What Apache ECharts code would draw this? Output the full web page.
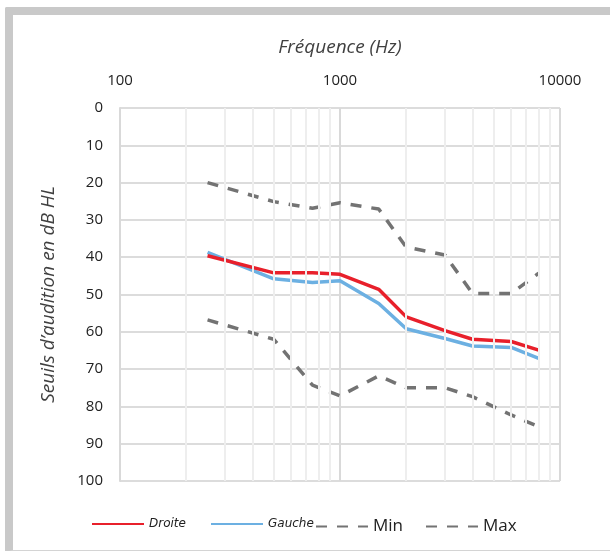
<!DOCTYPE html>
<html>
<head>
<meta charset="utf-8">
<script src="https://cdn.jsdelivr.net/npm/echarts@6/dist/echarts.min.js"></script>
<style>
  html, body { margin: 0; padding: 0; background: #fff; }
  #frame {
    position: absolute; left: 5px; top: 7px; width: 605px; height: 535px;
    border-left: 8px solid #c9c9c9; border-top: 8px solid #c9c9c9;
    border-bottom: 2px solid #d4d4d4; border-top-left-radius: 2px;
  }
  #chart { position: absolute; left: 0; top: 0; width: 610px; height: 551px; }
</style>
</head>
<body>
<div id="frame"></div>
<div id="chart"></div>
<script>
// fréquences mesurées (Hz)
const freqs = [250, 500, 750, 1000, 1500, 2000, 3000, 4000, 6000, 8000];
// seuils (dB HL)
const droite = [39.6, 44.2, 44.2, 44.6, 48.6, 56, 59.7, 62, 62.6, 64.9];
const gauche = [38.7, 45.8, 46.8, 46.3, 52.4, 59.2, 61.8, 63.8, 64.2, 67.1];
const minVals = [20, 25.1, 26.9, 25.4, 27.1, 37.3, 39.4, 49.7, 49.7, 44.3];
const maxVals = [56.8, 62, 74.3, 77.2, 71.8, 75, 75, 77.4, 82.3, 85.4];
// lignes secondaires de la grille log
const minorFreqs = [200, 300, 400, 500, 600, 700, 800, 900, 2000, 3000, 4000, 5000, 6000, 7000, 8000, 9000];

const pairs = vals => freqs.map((f, i) => [f, vals[i]]);

const chart = echarts.init(document.getElementById("chart"));

const dashStyle = { color: "#737373", width: 3.5, type: [11, 10] };

// pas de symbole dans la légende, seulement le trait
const noSymbol = { color: "transparent", borderWidth: 0 };

const legendBase = {
  top: 513,
  itemWidth: 52,
  itemHeight: 14,
  itemGap: 4,
  itemStyle: noSymbol
};

chart.setOption({
  animation: false,
  grid: { left: 120, right: 50, top: 108, bottom: 70 },
  xAxis: {
    type: "log",
    logBase: 10,
    min: 100,
    max: 10000,
    position: "top",
    name: "Fréquence (Hz)",
    nameLocation: "middle",
    nameGap: 51,
    nameTextStyle: { fontFamily: "Open Sans", fontStyle: "italic", fontSize: 19, color: "#404040" },
    axisLine: { show: false },
    axisTick: { show: false },
    axisLabel: {
      fontFamily: "Open Sans", fontSize: 15, color: "#222", margin: 20,
      formatter: v => String(Math.round(v))
    },
    splitLine: { show: true, lineStyle: { color: "#d9d9d9", width: 2 } }
  },
  yAxis: {
    type: "value",
    inverse: true,
    min: 0,
    max: 100,
    interval: 10,
    name: "Seuils d\u2019audition en dB HL",
    nameLocation: "middle",
    nameGap: 62,
    nameTextStyle: { fontFamily: "Open Sans", fontStyle: "italic", fontSize: 19, color: "#404040" },
    axisLine: { show: true, lineStyle: { color: "#d9d9d9", width: 2 } },
    axisTick: { show: false },
    axisLabel: { fontFamily: "Open Sans", fontSize: 15, color: "#222", margin: 17 },
    splitLine: { show: true, lineStyle: { color: "#dcdcdc", width: 2 } }
  },
  legend: [
    Object.assign({}, legendBase, {
      left: 86,
      data: [{ name: "Droite", itemStyle: noSymbol, textStyle: { fontFamily: "DejaVu Sans", fontStyle: "italic", fontSize: 12, color: "#222" } }]
    }),
    Object.assign({}, legendBase, {
      left: 205,
      data: [{ name: "Gauche", itemStyle: noSymbol, textStyle: { fontFamily: "DejaVu Sans", fontStyle: "italic", fontSize: 12, color: "#222" } }]
    }),
    Object.assign({}, legendBase, {
      left: 310,
      data: [{ name: "Min", itemStyle: noSymbol, textStyle: { fontFamily: "Open Sans", fontSize: 17, color: "#222" } }]
    }),
    Object.assign({}, legendBase, {
      left: 420,
      data: [{ name: "Max", itemStyle: noSymbol, textStyle: { fontFamily: "Open Sans", fontSize: 17, color: "#222" } }]
    })
  ],
  series: [
    {
      name: "grille",
      type: "line",
      data: [],
      silent: true,
      markLine: {
        silent: true,
        symbol: "none",
        label: { show: false },
        lineStyle: { color: "#eeeeee", width: 2, type: "solid" },
        data: minorFreqs.map(f => ({ xAxis: f }))
      }
    },
    {
      name: "Min",
      type: "line",
      data: pairs(minVals),
      symbol: "none",
      lineStyle: dashStyle,
      itemStyle: { color: "#737373" }
    },
    {
      name: "Max",
      type: "line",
      data: pairs(maxVals),
      symbol: "none",
      lineStyle: dashStyle,
      itemStyle: { color: "#737373" }
    },
    {
      name: "Gauche",
      type: "line",
      data: pairs(gauche),
      symbol: "none",
      lineStyle: { color: "#6cb0e2", width: 3.5 },
      itemStyle: { color: "#6cb0e2" }
    },
    {
      name: "Droite",
      type: "line",
      data: pairs(droite),
      symbol: "none",
      lineStyle: { color: "#e8202b", width: 3.5 },
      itemStyle: { color: "#e8202b" }
    }
  ]
});
</script>
</body>
</html>
